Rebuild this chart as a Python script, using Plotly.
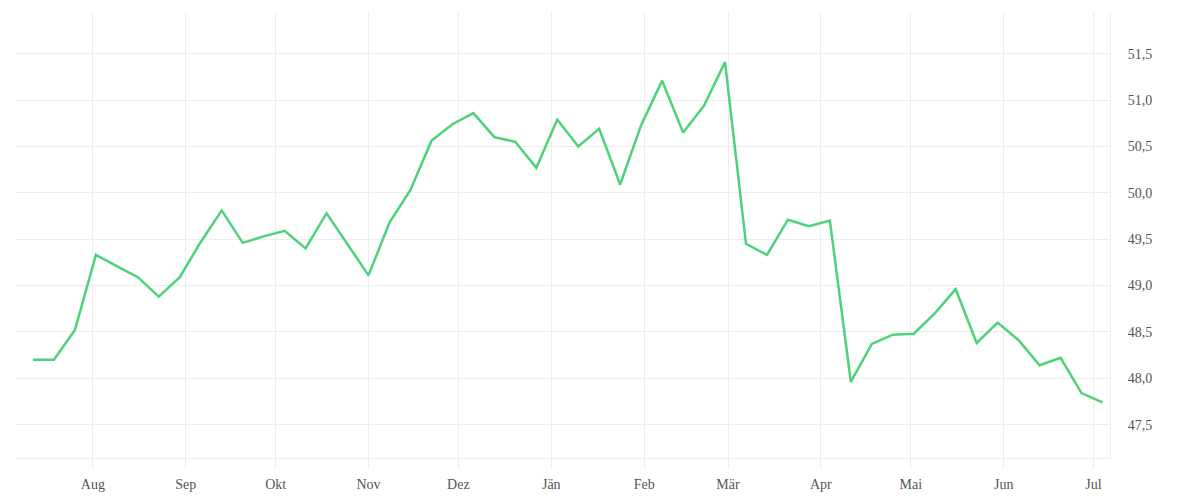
import plotly.graph_objects as go

# weekly readings
dates = [
    "2022-07-12", "2022-07-19", "2022-07-26", "2022-08-02", "2022-08-09",
    "2022-08-16", "2022-08-23", "2022-08-30", "2022-09-06", "2022-09-13",
    "2022-09-20", "2022-09-27", "2022-10-04", "2022-10-11", "2022-10-18",
    "2022-10-25", "2022-11-01", "2022-11-08", "2022-11-15", "2022-11-22",
    "2022-11-29", "2022-12-06", "2022-12-13", "2022-12-20", "2022-12-27",
    "2023-01-03", "2023-01-10", "2023-01-17", "2023-01-24", "2023-01-31",
    "2023-02-07", "2023-02-14", "2023-02-21", "2023-02-28", "2023-03-07",
    "2023-03-14", "2023-03-21", "2023-03-28", "2023-04-04", "2023-04-11",
    "2023-04-18", "2023-04-25", "2023-05-02", "2023-05-09", "2023-05-16",
    "2023-05-23", "2023-05-30", "2023-06-06", "2023-06-13", "2023-06-20",
    "2023-06-27", "2023-07-04",
]
values = [
    48.20, 48.20, 48.52, 49.33, 49.21, 49.09, 48.88, 49.09, 49.47, 49.81,
    49.46, 49.53, 49.59, 49.40, 49.78, 49.45, 49.11, 49.68, 50.03, 50.56,
    50.74, 50.86, 50.60, 50.55, 50.27, 50.79, 50.50, 50.69, 50.09, 50.73,
    51.21, 50.65, 50.94, 51.41, 49.45, 49.33, 49.71, 49.64, 49.70, 47.96,
    48.37, 48.47, 48.48, 48.70, 48.96, 48.38, 48.60, 48.41, 48.14, 48.22,
    47.84, 47.74,
]

month_ticks = [
    "2022-08-01", "2022-09-01", "2022-10-01", "2022-11-01", "2022-12-01",
    "2023-01-01", "2023-02-01", "2023-03-01", "2023-04-01", "2023-05-01",
    "2023-06-01", "2023-07-01",
]
month_labels = ["Aug", "Sep", "Okt", "Nov", "Dez", "Jän", "Feb", "Mär",
                "Apr", "Mai", "Jun", "Jul"]

y_ticks = [47.5, 48.0, 48.5, 49.0, 49.5, 50.0, 50.5, 51.0, 51.5]
y_labels = ["47,5", "48,0", "48,5", "49,0", "49,5", "50,0", "50,5", "51,0", "51,5"]

grid = "#ededed"

fig = go.Figure(go.Scatter(
    x=dates, y=values, mode="lines",
    line=dict(color="#4dd27c", width=2.5),
    showlegend=False,
))

# page body adds 8px, so margins are trimmed to keep the plot where it was
fig.update_layout(
    width=1200, height=500,
    margin=dict(l=7, r=98, t=4, b=50),
    paper_bgcolor="white", plot_bgcolor="white",
    font=dict(family="Liberation Serif", size=14, color="#555555"),
    xaxis=dict(
        range=["2022-07-06", "2023-07-06 12:00"],
        tickvals=month_ticks, ticktext=month_labels,
        showgrid=True, gridcolor=grid, gridwidth=1,
        ticks="outside", ticklen=10, tickcolor=grid, tickwidth=1,
        ticklabelstandoff=3,
        showline=True, linecolor=grid, linewidth=1,
        zeroline=False,
    ),
    yaxis=dict(
        side="right",
        range=[47.14, 51.95],
        tickvals=y_ticks, ticktext=y_labels,
        showgrid=True, gridcolor=grid, gridwidth=1,
        ticks="", ticklabelstandoff=14,
        showline=True, linecolor=grid, linewidth=1,
        zeroline=False,
    ),
)

fig.write_html("out.html")
